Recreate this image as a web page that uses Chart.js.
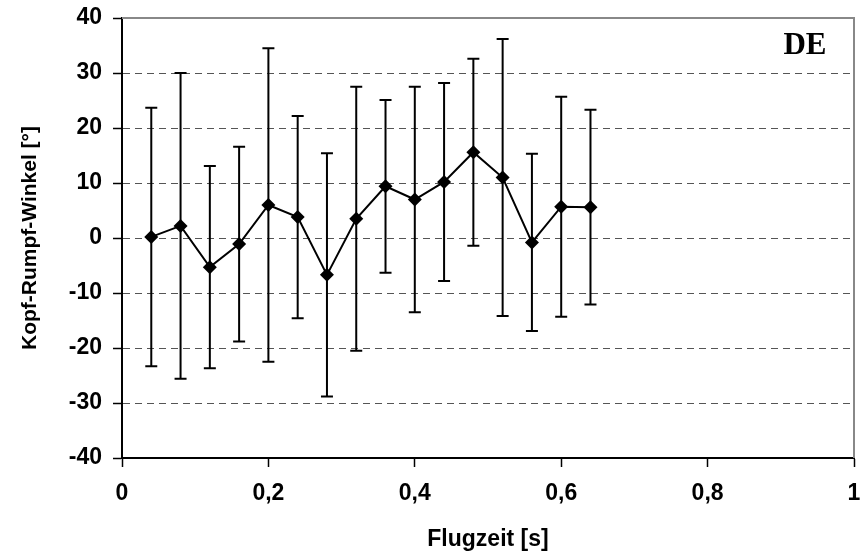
<!DOCTYPE html>
<html>
<head>
<meta charset="utf-8">
<script src="https://cdn.jsdelivr.net/npm/chart.js@4/dist/chart.umd.min.js"></script>
<style>
  html, body { margin: 0; padding: 0; background: #fff; }
  #wrap { width: 863px; height: 558px; }
</style>
</head>
<body>
<div id="wrap"><canvas id="myChart" width="863" height="558"></canvas></div>
<script>
// Flugzeit [s]
var flugzeit = [0.04, 0.08, 0.12, 0.16, 0.20, 0.24, 0.28, 0.32, 0.36, 0.40, 0.44, 0.48, 0.52, 0.56, 0.60, 0.64];
// Kopf-Rumpf-Winkel, Mittelwert [°]
var winkel = [0.2, 2.2, -5.3, -1.1, 6.0, 3.8, -6.7, 3.5, 9.4, 7.0, 10.2, 15.6, 11.0, -0.8, 5.7, 5.6];
// Standardabweichung [°]
var sd = [23.5, 27.8, 18.4, 17.7, 28.5, 18.4, 22.1, 24.0, 15.7, 20.5, 18.0, 17.0, 25.2, 16.1, 20.0, 17.7];

var xTicks = [0, 0.2, 0.4, 0.6, 0.8, 1];
var yMin = -40, yMax = 40;
var gruppe = 'DE';

var points = flugzeit.map(function (x, i) { return {x: x, y: winkel[i]}; });

// Fehlerbalken (mean +/- sd)
const errorBars = {
  id: 'errorBars',
  beforeDatasetsDraw(chart) {
    const ctx = chart.ctx;
    const xs = chart.scales.x, ys = chart.scales.y;
    ctx.save();
    ctx.strokeStyle = '#000';
    ctx.lineWidth = 2;
    for (var i = 0; i < flugzeit.length; i++) {
      var px = xs.getPixelForValue(flugzeit[i]);
      var top = ys.getPixelForValue(winkel[i] + sd[i]);
      var bot = ys.getPixelForValue(winkel[i] - sd[i]);
      ctx.beginPath();
      ctx.moveTo(px, top); ctx.lineTo(px, bot);
      ctx.moveTo(px - 6, top); ctx.lineTo(px + 6, top);
      ctx.moveTo(px - 6, bot); ctx.lineTo(px + 6, bot);
      ctx.stroke();
    }
    ctx.restore();
  }
};

// grauer Rahmen oben/rechts + Gruppenlabel
const frame = {
  id: 'frame',
  afterDraw(chart) {
    const ctx = chart.ctx, a = chart.chartArea;
    ctx.save();
    ctx.strokeStyle = '#888';
    ctx.lineWidth = 2;
    ctx.beginPath();
    ctx.moveTo(a.left, a.top); ctx.lineTo(a.right, a.top); ctx.lineTo(a.right, a.bottom);
    ctx.stroke();
    ctx.fillStyle = '#000';
    ctx.font = 'bold 31px "Liberation Serif", "Times New Roman", serif';
    ctx.textAlign = 'center';
    ctx.textBaseline = 'middle';
    ctx.fillText(gruppe, a.right - 49, a.top + 28);
    ctx.restore();
  }
};

function komma(v) {
  return String(Math.round(v * 10) / 10).replace('.', ',');
}

const labelFont = { family: '"Liberation Sans", Arial, sans-serif', size: 23, weight: 'bold' };
const yTitleFont = { family: '"Liberation Sans", Arial, sans-serif', size: 21, weight: 'bold' };

const config = {
  type: 'scatter',
  data: {
    datasets: [{
      label: 'Kopf-Rumpf-Winkel',
      data: points,
      showLine: true,
      borderColor: '#000',
      borderWidth: 2,
      backgroundColor: '#000',
      pointStyle: 'rectRot',
      pointRadius: 7,
      pointHoverRadius: 7,
      pointBorderWidth: 0
    }]
  },
  options: {
    responsive: false,
    animation: false,
    layout: { padding: { top: 18, right: 9, left: 0, bottom: 0 } },
    plugins: {
      legend: { display: false },
      tooltip: { enabled: false }
    },
    scales: {
      x: {
        type: 'linear',
        min: 0,
        max: 1,
        afterBuildTicks: function (s) { s.ticks = xTicks.map(function (v) { return {value: v}; }); },
        afterFit: function (s) { s.height = 100; s.paddingLeft = 0; s.paddingRight = 0; },
        grid: { drawOnChartArea: false, drawTicks: true, tickLength: 9, tickColor: '#000', tickWidth: 1.5 },
        border: { display: true, color: '#000', width: 2 },
        ticks: { color: '#000', font: labelFont, padding: 13, maxRotation: 0, callback: komma },
        title: { display: true, text: 'Flugzeit [s]', color: '#000', font: labelFont, padding: { top: 0, bottom: 5 } }
      },
      y: {
        min: yMin,
        max: yMax,
        afterFit: function (s) { s.width = 122; s.paddingTop = 0; s.paddingBottom = 0; },
        grid: {
          color: function (c) { return (c.tick && (c.tick.value === yMin || c.tick.value === yMax)) ? 'rgba(0,0,0,0)' : '#555'; },
          lineWidth: 1,
          tickLength: 9,
          tickColor: '#000',
          tickWidth: 1.5,
          tickBorderDash: []
        },
        border: { display: true, color: '#000', width: 2, dash: [7, 5] },
        ticks: { stepSize: 10, color: '#000', font: labelFont, padding: 11 },
        title: { display: true, text: 'Kopf-Rumpf-Winkel [°]', color: '#000', font: yTitleFont, padding: { top: 18, bottom: 0 } }
      }
    }
  },
  plugins: [errorBars, frame]
};

var myChart = new Chart(document.getElementById('myChart'), config);
</script>
</body>
</html>
